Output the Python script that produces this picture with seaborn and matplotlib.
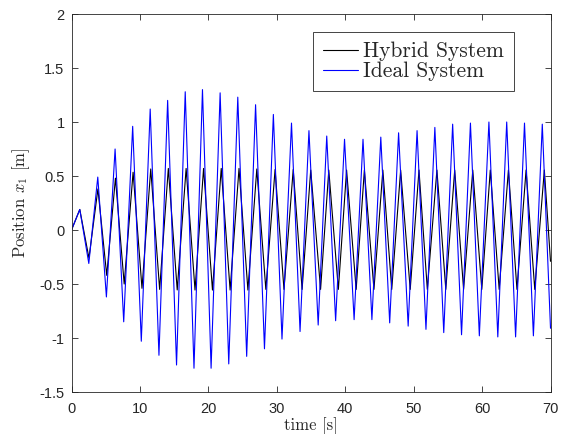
import matplotlib
matplotlib.use("Agg")
import matplotlib.pyplot as plt
import seaborn as sns
import pandas as pd

# Extrema (time [s], position [m])
t_hybrid = [0.0, 1.21, 2.55, 3.86, 5.15, 6.42, 7.70, 9.00, 10.30, 11.58, 12.88,
            14.15, 15.45, 16.75, 18.05, 19.30, 20.60, 21.88, 23.18, 24.48, 25.78,
            27.08, 28.40, 29.75, 31.05, 32.40, 33.70, 34.96, 36.40, 37.60, 39.00,
            40.20, 41.60, 42.80, 44.20, 45.50, 46.80, 48.10, 49.50, 50.78, 52.00,
            53.40, 54.70, 56.00, 57.30, 58.64, 59.96, 61.20, 62.50, 63.85, 65.10,
            66.43, 67.70, 69.10, 70.00]
x_hybrid = [0.0, 0.19, -0.26, 0.38, -0.42, 0.48, -0.50, 0.535, -0.54, 0.565, -0.55,
            0.57, -0.555, 0.57, -0.556, 0.57, -0.556, 0.57, -0.556, 0.57, -0.556,
            0.565, -0.55, 0.56, -0.55, 0.56, -0.55, 0.555, -0.55, 0.555, -0.55,
            0.555, -0.55, 0.555, -0.55, 0.555, -0.55, 0.555, -0.55, 0.555, -0.55,
            0.555, -0.55, 0.555, -0.55, 0.555, -0.55, 0.555, -0.55, 0.555, -0.55,
            0.555, -0.55, 0.555, -0.29]

t_ideal = [0.0, 1.21, 2.53, 3.84, 5.10, 6.37, 7.63, 8.94, 10.20, 11.50, 12.78,
           14.05, 15.35, 16.62, 17.90, 19.14, 20.40, 21.72, 22.98, 24.30, 25.60,
           26.90, 28.20, 29.50, 30.76, 32.15, 33.40, 34.70, 36.05, 37.30, 38.60,
           39.90, 41.30, 42.60, 43.90, 45.20, 46.50, 47.80, 49.20, 50.50, 51.80,
           53.10, 54.40, 55.70, 57.00, 58.30, 59.60, 61.00, 62.30, 63.60, 64.90,
           66.20, 67.50, 68.80, 70.00]
x_ideal = [0.0, 0.19, -0.31, 0.49, -0.62, 0.75, -0.85, 0.96, -1.03, 1.12, -1.16,
           1.20, -1.25, 1.28, -1.28, 1.30, -1.28, 1.27, -1.24, 1.23, -1.17,
           1.16, -1.10, 1.07, -1.01, 0.99, -0.94, 0.92, -0.88, 0.87, -0.84,
           0.84, -0.83, 0.84, -0.83, 0.86, -0.86, 0.90, -0.89, 0.92, -0.92,
           0.95, -0.95, 0.98, -0.97, 0.99, -0.98, 1.00, -0.99, 1.00, -0.99,
           0.99, -0.98, 0.98, -0.91]

x_ticks = [0, 10, 20, 30, 40, 50, 60, 70]
y_ticks = [-1.5, -1, -0.5, 0, 0.5, 1, 1.5, 2]
y_tick_labels = ["-1.5", "-1", "-0.5", "0", "0.5", "1", "1.5", "2"]
series_labels = ["Hybrid System", "Ideal System"]

sns.set_theme(style="white")
plt.rcParams["font.family"] = ["Liberation Sans", "DejaVu Sans"]
plt.rcParams["mathtext.fontset"] = "cm"

df_h = pd.DataFrame({"t": t_hybrid, "x": x_hybrid})
df_i = pd.DataFrame({"t": t_ideal, "x": x_ideal})

fig = plt.figure(figsize=(5.68, 4.34), dpi=100)
ax = fig.add_axes([71.5 / 568, 42 / 434, 479 / 568, 378 / 434])

axis_col = "#262626"
sns.lineplot(data=df_h, x="t", y="x", color="black", lw=0.8, estimator=None,
             sort=False, ax=ax, label=series_labels[0])
sns.lineplot(data=df_i, x="t", y="x", color="#0000ff", lw=0.8, estimator=None,
             sort=False, ax=ax, label=series_labels[1])

ax.set_xlim(0, 70)
ax.set_ylim(-1.5, 2)
ax.set_xticks(x_ticks)
ax.set_xticklabels([str(v) for v in x_ticks])
ax.set_yticks(y_ticks)
ax.set_yticklabels(y_tick_labels)
ax.tick_params(direction="in", length=4, width=0.6, colors=axis_col,
               labelsize=10.5, top=True, right=True, bottom=True, left=True,
               pad=5)
ax.tick_params(axis="x", pad=7)
for s in ax.spines.values():
    s.set_color(axis_col)
    s.set_linewidth(0.6)

ax.set_xlabel("time [s]", fontsize=12, color=axis_col, labelpad=1,
              family="cmr10")
ax.set_ylabel(r"Position $x_1$ [m]", fontsize=12, color=axis_col, labelpad=5,
              family="cmr10")

leg = ax.legend(loc="upper left", bbox_to_anchor=(0.505, 0.952),
                prop={"family": "cmr10", "size": 15.5},
                frameon=True, fancybox=False, framealpha=1, borderpad=0.45,
                handlelength=1.6, handletextpad=0.25, labelspacing=0.02,
                borderaxespad=0)
leg.get_frame().set_edgecolor(axis_col)
leg.get_frame().set_linewidth(0.6)
for h in leg.get_lines():
    h.set_linewidth(0.8)

fig.savefig("out.png", dpi=100)
